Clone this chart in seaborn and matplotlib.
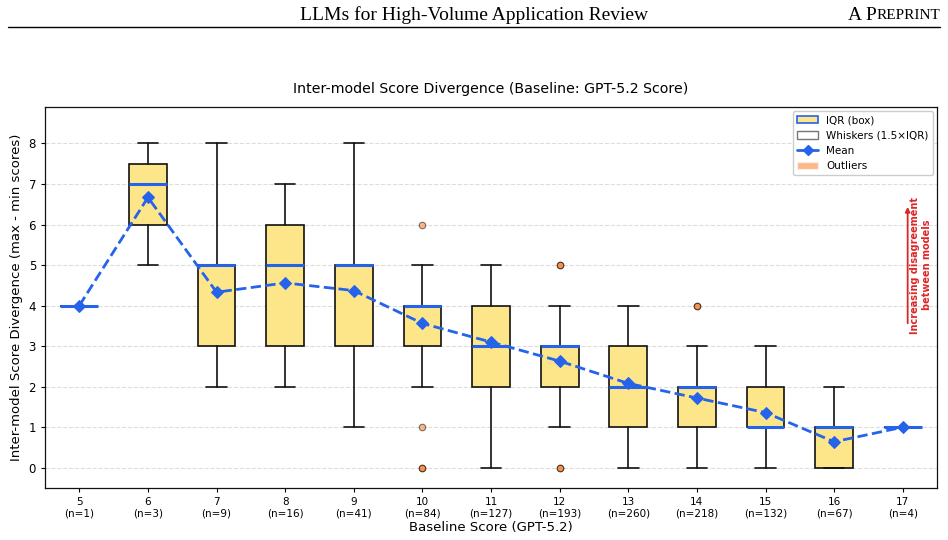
import matplotlib
matplotlib.use('Agg')
import matplotlib.pyplot as plt
import matplotlib.patches as mpatches
from matplotlib.lines import Line2D
import seaborn as sns
import numpy as np
import pandas as pd

sns.set_style('white')
plt.rcParams['font.family'] = ['DejaVu Sans']
plt.rcParams['text.color'] = 'black'
plt.rcParams['axes.labelcolor'] = 'black'
plt.rcParams['xtick.color'] = 'black'
plt.rcParams['ytick.color'] = 'black'

# data
scores = [5, 6, 7, 8, 9, 10, 11, 12, 13, 14, 15, 16, 17]
counts = [1, 3, 9, 16, 41, 84, 127, 193, 260, 218, 132, 67, 4]
q1 = [4, 6.0, 3, 3, 3, 3, 2, 2, 1, 1, 1, 0, 1]
med = [4, 7.0, 5, 5, 5, 4, 3, 3, 2, 2, 1, 1, 1]
q3 = [4, 7.5, 5, 6, 5, 4, 4, 3, 3, 2, 2, 1, 1]
whis_lo = [4, 5, 2, 2, 1, 2, 0, 1, 0, 0, 0, 0, 1]
whis_hi = [4, 8, 8, 7, 8, 5, 5, 4, 4, 3, 3, 2, 1]
means = [4.0, 6.67, 4.33, 4.56, 4.37, 3.56, 3.10, 2.63, 2.08, 1.72, 1.36, 0.64, 1.0]
outlier_x = [10, 10, 10, 10, 12, 12, 12, 12, 14, 14]
outlier_y = [6, 1, 0, 0, 5, 5, 0, 0, 4, 4]

BLUE = '#2563eb'
YELLOW = '#fde68a'
ORANGE = '#f97316'
RED = '#dc2626'

fig = plt.figure(figsize=(9.48, 5.4), dpi=100)
ax = fig.add_axes([0.0475, 0.0963, 0.941, 0.7056])

stats = []
for i in range(len(scores)):
    stats.append(dict(q1=q1[i], med=med[i], q3=q3[i], whislo=whis_lo[i],
                      whishi=whis_hi[i], mean=means[i], fliers=[]))

ax.bxp(stats, positions=scores, widths=0.55, showfliers=False, showmeans=False,
       patch_artist=True,
       boxprops=dict(facecolor=YELLOW, edgecolor='#111111', linewidth=1.2),
       medianprops=dict(color=BLUE, linewidth=2.2),
       whiskerprops=dict(color='#111111', linewidth=1.2),
       capprops=dict(color='#111111', linewidth=1.2), capwidths=0.3)

df_mean = pd.DataFrame({'score': scores, 'mean': means})
sns.lineplot(data=df_mean, x='score', y='mean', ax=ax, color=BLUE, linestyle='--',
             linewidth=2, marker='D', markersize=6, markeredgecolor=BLUE, zorder=5)

df_out = pd.DataFrame({'score': outlier_x, 'div': outlier_y})
sns.scatterplot(data=df_out, x='score', y='div', ax=ax, color=ORANGE, alpha=0.5,
                edgecolor='black', linewidth=0.8, s=22, zorder=4)

ax.set_xlim(4.5, 17.5)
ax.set_ylim(-0.5, 8.9)
ax.set_yticks(range(0, 9))
ax.set_xticks(scores)
ax.set_xticklabels([f'{s}\n(n={n})' for s, n in zip(scores, counts)], fontsize=7.5)
ax.tick_params(axis='y', labelsize=8.5, left=True, length=3)
ax.tick_params(axis='x', bottom=True, length=3)
ax.yaxis.grid(True, linestyle='--', color='#dddddd', linewidth=0.8)
ax.set_axisbelow(True)
for sp in ax.spines.values():
    sp.set_color('#111111')
    sp.set_linewidth(0.9)

ax.set_xlabel('Baseline Score (GPT-5.2)', fontsize=9.5, labelpad=2)
ax.set_ylabel('Inter-model Score Divergence (max - min scores)', fontsize=9.5)
ax.set_title('Inter-model Score Divergence (Baseline: GPT-5.2 Score)', fontsize=10.2, pad=10)

handles = [
    mpatches.Patch(facecolor=YELLOW, edgecolor=BLUE, linewidth=1.2, label='IQR (box)'),
    mpatches.Patch(facecolor='white', edgecolor='#777777', linewidth=1, label='Whiskers (1.5×IQR)'),
    Line2D([0], [0], color=BLUE, marker='D', markersize=5, linewidth=2, label='Mean'),
    mpatches.Patch(facecolor=ORANGE, alpha=0.5, label='Outliers'),
]
ax.legend(handles=handles, loc='upper right', fontsize=7.5, frameon=True, framealpha=1,
          edgecolor='#cccccc', borderaxespad=0.4)

ax.annotate('', xy=(0.967, 0.745), xytext=(0.967, 0.425), xycoords='axes fraction',
            arrowprops=dict(arrowstyle='-|>', color=RED, lw=1.3, mutation_scale=7))
ax.text(0.982, 0.585, 'Increasing disagreement\nbetween models', transform=ax.transAxes,
        rotation=90, ha='center', va='center', color=RED, fontsize=7, fontweight='bold')

# page header
fig.text(0.5, 0.972, 'LLMs for High-Volume Application Review', ha='center', va='center',
         fontsize=14, family='Liberation Serif')
hdr = fig.text(0.894, 0.972, 'A P', ha='left', va='center', fontsize=14, family='Liberation Serif')
fig.canvas.draw()
bb = hdr.get_window_extent()
x1 = fig.transFigure.inverted().transform((bb.x1, bb.y0))[0]
fig.text(x1, 0.972, 'REPRINT', ha='left', va='center', fontsize=11, family='Liberation Serif')
fig.add_artist(Line2D([0.008, 0.992], [0.95, 0.95], color='black', linewidth=1,
                      transform=fig.transFigure))

fig.savefig('out.png', dpi=100)
